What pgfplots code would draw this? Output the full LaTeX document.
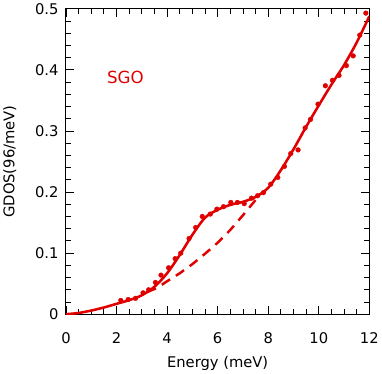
\documentclass[border=0pt]{standalone}
\usepackage{pgfplots}
\pgfplotsset{compat=1.18}
\usepackage{fontspec}
\setmainfont{DejaVu Sans}
\definecolor{myred}{RGB}{225,0,0}
\begin{document}
\begin{tikzpicture}
\begin{axis}[
  scale only axis, width=308bp, height=310bp,
  xmin=0, xmax=12, ymin=0, ymax=0.5,
  xtick={0,2,4,6,8,10,12}, ytick={0,0.1,0.2,0.3,0.4,0.5},
  yticklabels={0,0.1,0.2,0.3,0.4,0.5},
  minor x tick num=3, minor y tick num=4,
  major tick length=8bp, minor tick length=5bp,
  tick align=inside, xtick pos=both, ytick pos=both,
  tick style={black, line width=0.9pt},
  axis line style={line width=1pt},
  tick label style={font=\fontsize{15}{17}\selectfont},
  label style={font=\fontsize{15}{17}\selectfont},
  /pgf/number format/assume math mode=true,
  xlabel={Energy (meV)}, ylabel={GDOS(96/meV)},
  xticklabel style={yshift=-15bp},
  yticklabel style={xshift=-4bp},
  ylabel style={at={(axis description cs:-0.185,0.5)}, anchor=center},
  xlabel style={at={(axis description cs:0.5,-0.161)}, anchor=center},
]
% dashed background
\addplot[myred, line width=2.5pt, dash pattern=on 10bp off 7bp] coordinates {
 (3.2,0.036) (3.6,0.043) (4.0,0.054) (4.5,0.067) (5.0,0.082) (5.5,0.099) (6.0,0.117) (6.5,0.138) (7.0,0.162) (7.4,0.182) (7.6,0.192)
};
% solid fit
\addplot[myred, line width=2.6pt, smooth] coordinates {
 (0,0) (0.5,0.002) (1,0.006) (1.5,0.011) (2,0.017) (2.5,0.023) (3,0.031) (3.5,0.045) (4,0.067) (4.5,0.097) (5,0.130) (5.5,0.158) (6,0.171) (6.5,0.179) (7,0.184) (7.5,0.192) (8,0.207) (8.5,0.236) (9,0.270) (9.5,0.307) (10,0.342) (10.5,0.376) (11,0.408) (11.5,0.445) (12,0.488)
};
% data points
\addplot[only marks, mark=*, mark size=2.4bp, myred] coordinates {
 (2.17,0.0226) (2.46,0.024) (2.75,0.026) (3.05,0.035) (3.27,0.040) (3.54,0.052) (3.76,0.064) (4.06,0.076) (4.32,0.091) (4.54,0.100) (4.87,0.124) (5.13,0.142) (5.39,0.160) (5.71,0.164) (5.97,0.172) (6.23,0.176) (6.52,0.183) (6.78,0.183) (7.05,0.181) (7.34,0.190) (7.58,0.194) (7.81,0.199) (8.10,0.213) (8.38,0.224) (8.64,0.242) (8.89,0.263) (9.18,0.269) (9.46,0.305) (9.67,0.319) (9.97,0.344) (10.26,0.374) (10.54,0.383) (10.80,0.391) (11.09,0.407) (11.36,0.423) (11.62,0.457) (11.86,0.493)
};
\node[myred, font=\fontsize{17}{19}\selectfont] at (axis cs:2.35,0.388) {SGO};
\end{axis}
\end{tikzpicture}
\end{document}
